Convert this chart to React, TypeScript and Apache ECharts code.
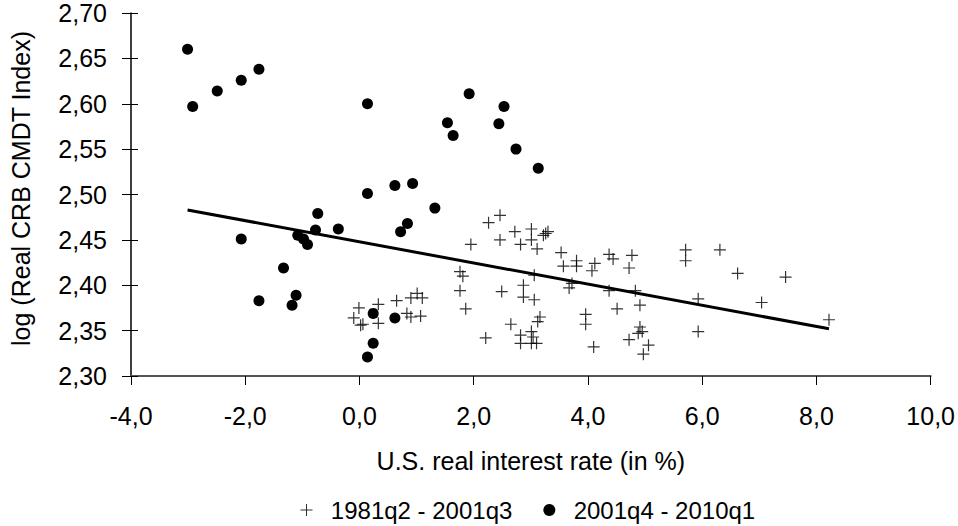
import React, { useEffect, useRef } from "react";
import * as echarts from "echarts";

// 1981q2 - 2001q3 : [real interest rate, log real CRB]
const periodOneX = [
  -0.01, 0.33, -0.10, 0.02, 0.06, 0.33, 0.65, 0.90, 1.01, 1.10, 0.83, 0.90, 1.07,
  1.76, 1.81, 1.76, 1.86, 1.95, 2.21, 2.26, 2.46, 2.46, 2.72, 2.82, 3.01, 3.01, 3.11,
  3.22, 3.26, 3.30, 3.06, 2.87, 2.87, 3.06, 2.49, 2.65, 2.82, 2.82, 3.01, 3.04, 3.01,
  3.10, 3.12, 3.16, 3.53, 3.57, 3.80, 3.80, 4.12, 4.07, 4.37, 4.44, 4.77, 4.72, 3.67,
  3.72, 4.37, 4.83, 4.51, 4.91, 3.96, 3.96, 4.10, 4.72, 4.91, 4.95, 4.88, 4.97, 5.06,
  5.71, 5.71, 6.31, 6.62, 5.93, 5.93, 7.04, 7.46, 8.22,
];
const periodOneY = [
  2.375, 2.379, 2.364, 2.356, 2.357, 2.358, 2.383, 2.386, 2.391, 2.386, 2.369, 2.365, 2.366,
  2.415, 2.410, 2.394, 2.374, 2.445, 2.342, 2.469, 2.477, 2.450, 2.459, 2.445, 2.462, 2.450, 2.440,
  2.455, 2.457, 2.459, 2.411, 2.400, 2.387, 2.384, 2.393, 2.357, 2.345, 2.336, 2.349, 2.343, 2.336,
  2.336, 2.360, 2.365, 2.436, 2.421, 2.427, 2.421, 2.424, 2.416, 2.434, 2.429, 2.433, 2.419, 2.397,
  2.402, 2.394, 2.394, 2.374, 2.378, 2.368, 2.357, 2.332, 2.340, 2.354, 2.349, 2.347, 2.324, 2.334,
  2.439, 2.427, 2.439, 2.413, 2.385, 2.349, 2.381, 2.409, 2.362,
];

// 2001q4 - 2010q1
const periodTwoX = [
  -3.01, -2.92, -2.49, -2.07, -1.76, 0.14, 0.14, 0.62, 0.93, 1.32,
  1.92, 2.53, 1.54, 1.64, 2.44, 2.74, 3.13,
  -2.07, -0.73, -0.77, -1.08, -0.98, -0.91, -0.37, 0.84, 0.72,
  -1.33, -1.76, -1.11, -1.18, 0.24, 0.62, 0.24, 0.14,
];
const periodTwoY = [
  2.660, 2.597, 2.614, 2.626, 2.638, 2.600, 2.501, 2.510, 2.512, 2.485,
  2.611, 2.597, 2.579, 2.565, 2.578, 2.550, 2.529,
  2.451, 2.479, 2.461, 2.455, 2.451, 2.445, 2.462, 2.468, 2.459,
  2.419, 2.383, 2.389, 2.378, 2.369, 2.364, 2.336, 2.321,
];

// fitted line end points
const trendX = [-3.01, 8.22];
const trendY = [2.483, 2.352];

const xTicks = { min: -4, max: 10, step: 2 };
const yTicks = { min: 2.3, max: 2.7, step: 0.05 };

const seriesNames = ["1981q2 - 2001q3", "2001q4 - 2010q1"];
const xTitle = "U.S. real interest rate (in %)";
const yTitle = "log (Real CRB CMDT Index)";

const FONT = "'Liberation Sans', Arial, sans-serif";
const PLUS = "path://M0,5L10,5M5,0L5,10";

export default function App() {
  const ref = useRef<HTMLDivElement>(null);
  useEffect(() => {
    if (!ref.current) return;
    const chart = echarts.init(ref.current, undefined, { renderer: "svg" });
    const pairs = (xs: number[], ys: number[]) => xs.map((x, i) => [x, ys[i]]);
    chart.setOption({
      animation: false,
      backgroundColor: "#fff",
      textStyle: { fontFamily: FONT, color: "#000" },
      grid: { left: 131, right: 27, top: 13, bottom: 150, containLabel: false },
      legend: {
        top: 498,
        left: 300,
        itemWidth: 12,
        itemHeight: 12,
        itemGap: 31,
        padding: 0,
        formatter: (n: string) => "  " + n,
        textStyle: { fontSize: 24, lineHeight: 24, fontFamily: FONT, color: "#000" },
        data: [
          { name: seriesNames[0], icon: PLUS, itemStyle: { color: "transparent", borderColor: "#000", borderWidth: 1 } },
          { name: seriesNames[1], icon: "circle", itemStyle: { color: "#000" } },
        ],
      },
      xAxis: {
        type: "value",
        min: xTicks.min,
        max: xTicks.max,
        interval: xTicks.step,
        name: xTitle,
        nameLocation: "middle",
        nameGap: 72,
        nameTextStyle: { fontSize: 25, fontFamily: FONT, color: "#000" },
        axisLine: { show: true, onZero: false, lineStyle: { color: "#555", width: 2 } },
        axisTick: { show: true, length: 9, lineStyle: { color: "#000", width: 1 } },
        axisLabel: {
          fontSize: 25,
          fontFamily: FONT,
          color: "#000",
          margin: 27,
          formatter: (v: number) => v.toFixed(1).replace(".", ","),
        },
        splitLine: { show: false },
      },
      yAxis: [
        {
          type: "value",
          min: yTicks.min,
          max: yTicks.max,
          interval: yTicks.step,
          name: yTitle,
          nameLocation: "middle",
          nameGap: 98,
          nameTextStyle: { fontSize: 25, fontFamily: FONT, color: "#000", padding: [0, 0, 0, 12] },
          axisLine: { show: true, onZero: false, lineStyle: { color: "#000", width: 1.5 } },
          axisTick: { show: true, length: 9, lineStyle: { color: "#000", width: 1 } },
          axisLabel: {
            fontSize: 25,
            fontFamily: FONT,
            color: "#000",
            margin: 24,
            formatter: (v: number) => v.toFixed(2).replace(".", ","),
          },
          splitLine: { show: false },
        },
        {
          type: "value",
          position: "left",
          min: yTicks.min,
          max: yTicks.max,
          interval: yTicks.step,
          axisLine: { show: false, onZero: false },
          axisTick: { show: true, inside: true, length: 7, lineStyle: { color: "#000", width: 1 } },
          axisLabel: { show: false },
          splitLine: { show: false },
        },
      ],
      series: [
        {
          name: seriesNames[0],
          type: "scatter",
          symbol: PLUS,
          symbolSize: 12,
          itemStyle: { color: "transparent", borderColor: "#000", borderWidth: 1.2 },
          data: pairs(periodOneX, periodOneY),
          z: 3,
        },
        {
          name: seriesNames[1],
          type: "scatter",
          symbol: "circle",
          symbolSize: 11,
          itemStyle: { color: "#000", opacity: 1 },
          data: pairs(periodTwoX, periodTwoY),
          z: 4,
        },
        {
          name: "trend",
          type: "line",
          data: pairs(trendX, trendY),
          symbol: "none",
          lineStyle: { color: "#000", width: 3 },
          z: 5,
        },
      ],
    });
    return () => chart.dispose();
  }, []);
  return (
    <div
      ref={ref}
      style={{ position: "absolute", left: 0, top: 0, width: 958, height: 526, background: "#fff" }}
    />
  );
}
